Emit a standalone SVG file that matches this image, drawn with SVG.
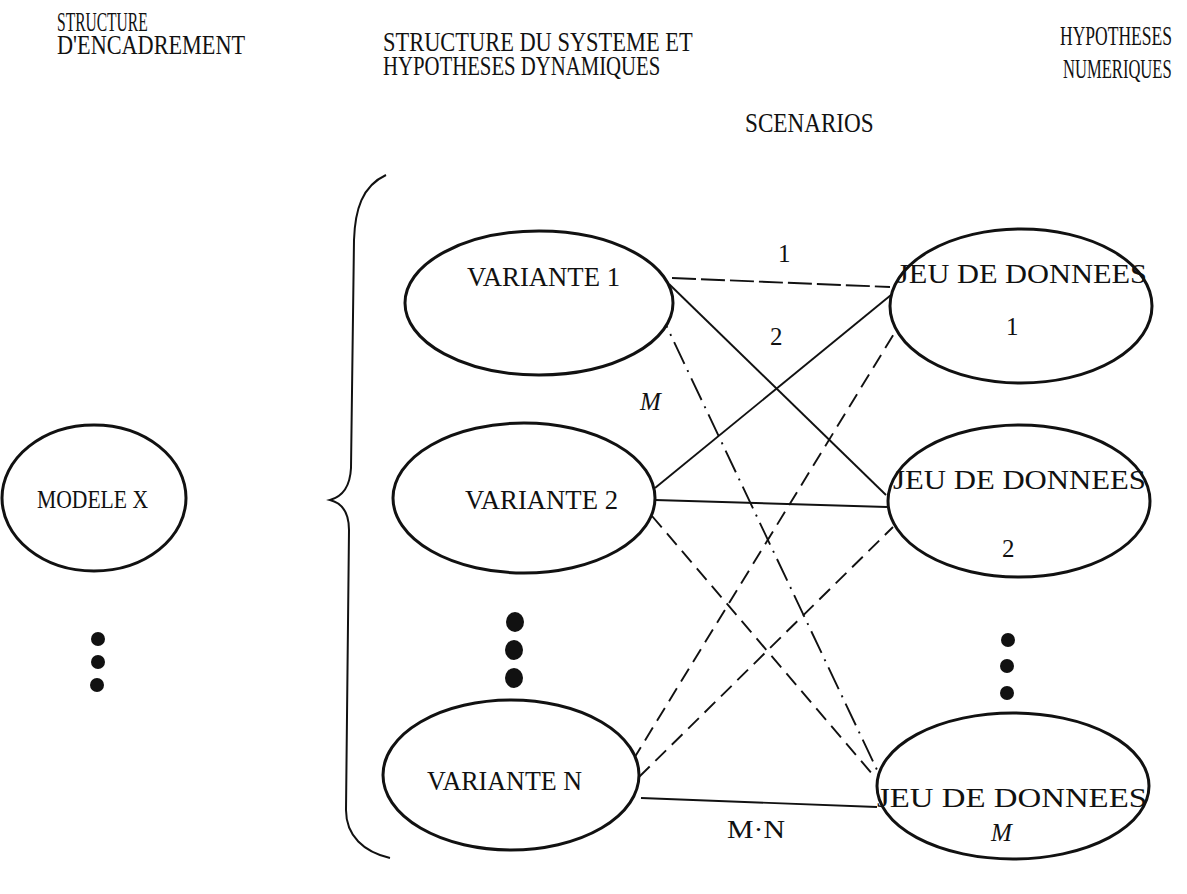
<svg xmlns="http://www.w3.org/2000/svg" width="1187" height="894" viewBox="0 0 1187 894">
  <style>
    .node { fill: #ffffff; stroke: #111111; stroke-width: 3; }
    .head { font-family: "Liberation Serif", serif; font-size: 28px; fill: #111111; }
    .lbl { font-family: "Liberation Serif", serif; font-size: 28px; fill: #111111; }
    .num { font-family: "Liberation Serif", serif; font-size: 25px; fill: #111111; }
    .ital { font-style: italic; }
    .edge { fill: none; stroke: #111111; stroke-width: 1.9; }
    .dash-long { stroke-dasharray: 24 5; }
    .dash { stroke-dasharray: 15 8; }
    .dash-dot { stroke-dasharray: 24 7 2 7; }
    .dot { fill: #111111; }
    .brace { fill: none; stroke: #111111; stroke-width: 2; }
  </style>
  <rect width="1187" height="894" fill="#ffffff"/>

  <!-- column headings: condensed type, squeezed horizontally -->
  <g id="headings">
    <text class="head" transform="translate(57 31) scale(0.56 1)" textLength="162" lengthAdjust="spacingAndGlyphs">STRUCTURE</text>
    <text class="head" transform="translate(57 54) scale(0.79 1)" textLength="238" lengthAdjust="spacingAndGlyphs">D'ENCADREMENT</text>
    <text class="head" transform="translate(383 51) scale(0.8 1)" textLength="387" lengthAdjust="spacingAndGlyphs">STRUCTURE DU SYSTEME ET</text>
    <text class="head" transform="translate(383 75) scale(0.724 1)" textLength="383" lengthAdjust="spacingAndGlyphs">HYPOTHESES DYNAMIQUES</text>
    <text class="head" transform="translate(1060 45) scale(0.626 1)" textLength="179" lengthAdjust="spacingAndGlyphs">HYPOTHESES</text>
    <text class="head" transform="translate(1063 78) scale(0.594 1)" textLength="183" lengthAdjust="spacingAndGlyphs">NUMERIQUES</text>
    <text class="head" transform="translate(745 132) scale(0.83 1)" textLength="155" lengthAdjust="spacingAndGlyphs">SCENARIOS</text>
  </g>

  <!-- brace grouping the variants -->
  <path id="brace" class="brace" d="M 386 175 C 362 186 355 210 354 240 L 351 468 C 350 488 341 497 330 500 C 342 503 349 512 349 530 L 346 810 C 346 836 364 852 390 858"/>

  <!-- connectors between variants and data sets -->
  <g id="connectors">
    <line class="edge dash-long" x1="672" y1="278" x2="890" y2="287"/>
    <line class="edge" x1="669" y1="284" x2="886" y2="495"/>
    <line class="edge dash-dot" x1="657" y1="306" x2="878" y2="772"/>
    <line class="edge" x1="655" y1="488" x2="891" y2="295"/>
    <line class="edge" x1="655" y1="500" x2="887" y2="507"/>
    <line class="edge dash" x1="652" y1="516" x2="874" y2="776"/>
    <line class="edge dash" x1="633" y1="760" x2="900" y2="324"/>
    <line class="edge dash" x1="639" y1="777" x2="893" y2="527"/>
    <line class="edge" x1="641" y1="798" x2="877" y2="807"/>
    <text class="num" x="778" y="262">1</text>
    <text class="num" x="770" y="345">2</text>
    <text class="num ital" x="640" y="410">M</text>
    <text class="num" x="727" y="838" textLength="58" lengthAdjust="spacingAndGlyphs">M·N</text>
  </g>

  <g id="modele-x">
    <ellipse class="node" cx="94" cy="498" rx="92" ry="73"/>
    <text class="lbl" x="37" y="508" textLength="111" lengthAdjust="spacingAndGlyphs" style="font-size:25px">MODELE X</text>
  </g>
  <g id="modele-dots">
    <circle class="dot" cx="98" cy="639" r="7"/>
    <circle class="dot" cx="98" cy="662" r="7"/>
    <circle class="dot" cx="97" cy="685" r="7"/>
  </g>

  <g id="variante-1">
    <ellipse class="node" cx="539" cy="303" rx="134" ry="72"/>
    <text class="lbl" x="467" y="286" textLength="153" lengthAdjust="spacingAndGlyphs">VARIANTE 1</text>
  </g>
  <g id="variante-2">
    <ellipse class="node" cx="524" cy="498" rx="131" ry="75"/>
    <text class="lbl" x="465" y="509" textLength="153" lengthAdjust="spacingAndGlyphs">VARIANTE 2</text>
  </g>
  <g id="variante-dots">
    <ellipse class="dot" cx="515" cy="622" rx="9" ry="10"/>
    <ellipse class="dot" cx="514" cy="650" rx="9" ry="10"/>
    <ellipse class="dot" cx="514" cy="678" rx="9" ry="10"/>
  </g>
  <g id="variante-n">
    <ellipse class="node" cx="511" cy="775" rx="128" ry="75"/>
    <text class="lbl" x="427" y="790" textLength="155" lengthAdjust="spacingAndGlyphs">VARIANTE N</text>
  </g>

  <g id="jeu-1">
    <ellipse class="node" cx="1021" cy="306" rx="131" ry="77"/>
    <text class="lbl" x="897" y="283" textLength="250" lengthAdjust="spacingAndGlyphs">JEU DE DONNEES</text>
    <text class="num" x="1006" y="335">1</text>
  </g>
  <g id="jeu-2">
    <ellipse class="node" cx="1019" cy="501" rx="131" ry="76"/>
    <text class="lbl" x="893" y="489" textLength="253" lengthAdjust="spacingAndGlyphs">JEU DE DONNEES</text>
    <text class="num" x="1002" y="557">2</text>
  </g>
  <g id="jeu-dots">
    <circle class="dot" cx="1008" cy="640" r="7"/>
    <circle class="dot" cx="1007" cy="666" r="7"/>
    <circle class="dot" cx="1007" cy="693" r="7"/>
  </g>
  <g id="jeu-m">
    <ellipse class="node" cx="1013" cy="786" rx="136" ry="73"/>
    <text class="lbl" x="877" y="807" textLength="270" lengthAdjust="spacingAndGlyphs">JEU DE DONNEES</text>
    <text class="num ital" x="991" y="841">M</text>
  </g>
</svg>
